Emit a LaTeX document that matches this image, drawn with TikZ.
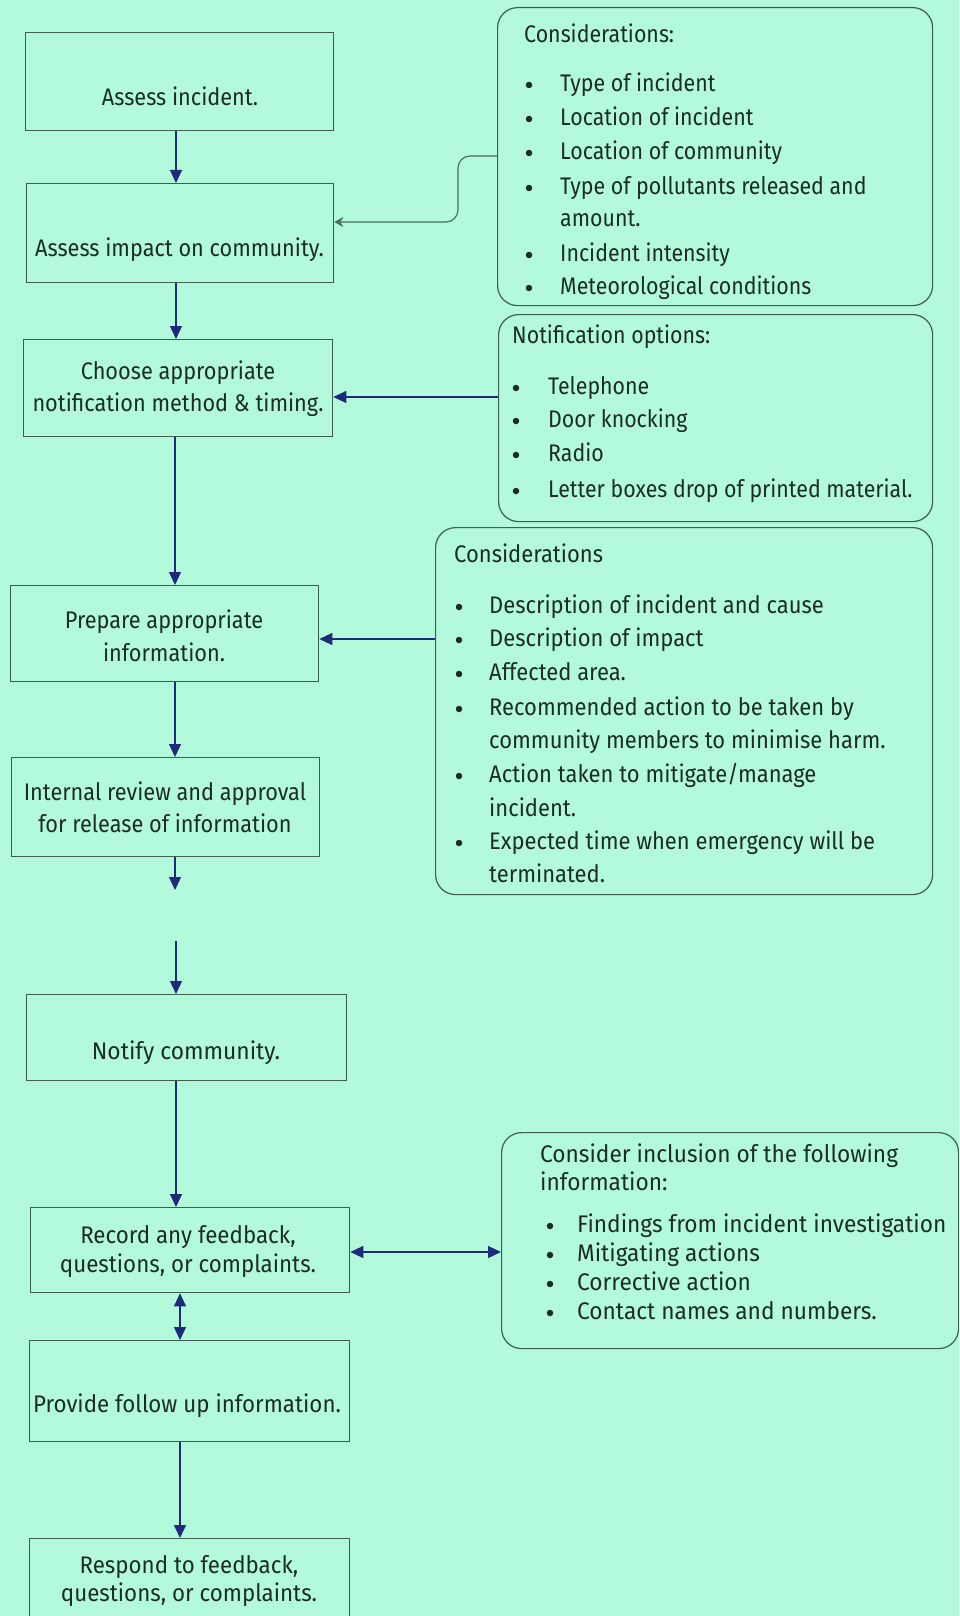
\documentclass[tikz,border=0pt]{standalone}
\usepackage{fontspec}
\setmainfont{Fira Sans}[FakeStretch=0.90]
\newfontfamily\fsA{Fira Sans}[FakeStretch=0.89]
\newfontfamily\fsB{Fira Sans}[FakeStretch=0.915]
\newfontfamily\fsC{Fira Sans}[FakeStretch=0.945]
\newfontfamily\fsD{Fira Sans}[FakeStretch=0.905]
\newfontfamily\fsE{Fira Sans}[FakeStretch=0.95]
\newfontfamily\fsF{Fira Sans}[FakeStretch=0.93]
\usetikzlibrary{arrows.meta}
\definecolor{bg}{HTML}{B3FADC}
\definecolor{edge}{HTML}{3E5E50}
\definecolor{navy}{HTML}{1F2B7A}
\definecolor{ink}{HTML}{1A2D25}
\definecolor{gline}{HTML}{4A6E60}
\begin{document}
\begin{tikzpicture}[x=1pt,y=-1pt,
  box/.style={draw=edge, line width=1.3pt, inner sep=0pt, anchor=north west},
  sbox/.style={draw=edge, line width=1.2pt, rounded corners=20pt, inner sep=0pt, anchor=north west},
  txt/.style={text=ink, font=\fsD\fontsize{24}{32}\selectfont, align=center, inner sep=0pt},
  txtl/.style={text=ink, font=\fsE\fontsize{24}{32}\selectfont, align=center, inner sep=0pt},
  txtm/.style={text=ink, font=\fsF\fontsize{24}{32}\selectfont, align=center, inner sep=0pt},
  item/.style={text=ink, font=\fsA\fontsize{24}{32}\selectfont, anchor=mid west, inner sep=0pt},
  itemb/.style={item, font=\fsB\fontsize{24}{32}\selectfont},
  itemc/.style={item, font=\fsC\fontsize{24}{32}\selectfont},
  dot/.style={circle, fill=ink, inner sep=0pt, minimum size=6.5pt},
  arr/.style={draw=navy, line width=1.3pt, -{Triangle[width=12pt,length=13pt]}},
  darr/.style={draw=navy, line width=1.3pt, {Triangle[width=12pt,length=13pt]}-{Triangle[width=12pt,length=13pt]}},
  garr/.style={draw=gline, line width=1.2pt, -{Stealth[width=10pt,length=9pt]}, rounded corners=12pt}
]
\useasboundingbox (0,0) rectangle (959,1616);
\fill[bg] (0,0) rectangle (959,1616);

% main boxes
\node[box, minimum width=308pt, minimum height=98pt] (b1) at (25,32) {};
\node[box, minimum width=307pt, minimum height=99pt] (b2) at (26,183) {};
\node[box, minimum width=309pt, minimum height=97pt] (b3) at (23,339) {};
\node[box, minimum width=308pt, minimum height=96pt] (b4) at (10,585) {};
\node[box, minimum width=308pt, minimum height=99pt] (b5) at (11,757) {};
\node[box, minimum width=320pt, minimum height=86pt] (b6) at (26,994) {};
\node[box, minimum width=319pt, minimum height=85pt] (b7) at (30,1207) {};
\node[box, minimum width=320pt, minimum height=101pt] (b8) at (29,1340) {};
\node[box, minimum width=320pt, minimum height=100pt] (b9) at (29,1538) {};

\node[txt, anchor=mid] (b1t) at (180,103) {Assess incident.};
\node[txt, anchor=mid] (b2t) at (179.5,254) {Assess impact on community.};
\node[txt, font=\fsD\fontsize{24}{32}\selectfont] (b3t) at (178,389) {Choose appropriate\\notification method \& timing.};
\node[txt, font=\fsD\fontsize{24}{33}\selectfont] (b4t) at (164,636) {Prepare appropriate\\information.};
\node[txt, font=\fsD\fontsize{24}{32}\selectfont] (b5t) at (165,807) {Internal review and approval\\for release of information};
\node[txtl, anchor=mid] (b6t) at (186,1057) {Notify community.};
\node[txtm, font=\fsF\fontsize{24}{29}\selectfont] (b7t) at (188,1252) {Record any feedback,\\questions, or complaints.};
\node[txtm, anchor=mid] (b8t) at (187,1410) {Provide follow up information.};
\node[txtm, font=\fsF\fontsize{24}{28}\selectfont] (b9t) at (189,1581) {Respond to feedback,\\questions, or complaints.};

% side boxes
\node[sbox, minimum width=435pt, minimum height=298pt] (sb1) at (497,7) {};
\node[sbox, minimum width=434pt, minimum height=207pt] (sb2) at (498,314) {};
\node[sbox, minimum width=497pt, minimum height=367pt] (sb3) at (435,527) {};
\node[sbox, minimum width=457pt, minimum height=216pt] (sb4) at (501,1132) {};

% side box 1 text
\node[item] (s1h) at (524,40) {Considerations:};
\foreach \y/\t [count=\i] in {89/{Type of incident},123/{Location of incident},157/{Location of community},192/{Type of pollutants released and},259/{Incident intensity},292/{Meteorological conditions}}{
  \node[dot] (s1d\i) at (529,\y-4) {};
  \node[item] (s1i\i) at (560,\y) {\t};
}
\node[item] (s1c) at (560,224) {amount.};

% side box 2 text
\node[item] (s2h) at (512,341) {Notification options:};
\foreach \y/\t [count=\i] in {392/{Telephone},425/{Door knocking},459/{Radio},495/{Letter boxes drop of printed material.}}{
  \node[dot] (s2d\i) at (516,\y-4) {};
  \node[item] (s2i\i) at (548,\y) {\t};
}

% side box 3 text
\node[itemb] (s3h) at (454,560) {Considerations};
\foreach \y/\t [count=\i] in {611/{Description of incident and cause},644/{Description of impact},678/{Affected area.},713/{Recommended action to be taken by},780/{Action taken to mitigate/manage},847/{Expected time when emergency will be}}{
  \node[dot] (s3d\i) at (459,\y-4) {};
  \node[itemb] (s3i\i) at (489,\y) {\t};
}
\node[itemb] (s3c1) at (489,746) {community members to minimise harm.};
\node[itemb] (s3c2) at (489,814) {incident.};
\node[itemb] (s3c3) at (489,880) {terminated.};

% side box 4 text
\node[itemc] (s4h1) at (540,1160) {Consider inclusion of the following};
\node[itemc] (s4h2) at (540,1188) {information:};
\foreach \y/\t [count=\i] in {1230/{Findings from incident investigation},1259/{Mitigating actions},1288/{Corrective action},1317/{Contact names and numbers.}}{
  \node[dot] (s4d\i) at (550,\y-4) {};
  \node[itemc] (s4i\i) at (577,\y) {\t};
}

% helper coordinates
\coordinate (xa) at (176,0);
\coordinate (xb) at (175,0);
\coordinate (xc) at (180,0);
\coordinate (e5) at (175,890);
\coordinate (s6) at (176,941);
\coordinate (h3) at (0,397);
\coordinate (h4) at (0,639);
\coordinate (h7) at (0,1252);
\coordinate (g1) at (458,156);
\coordinate (g2) at (458,222);

% connectors
\draw[arr] (b1.south -| xa) -- (b2.north -| xa);
\draw[arr] (b2.south -| xa) -- (b3.north -| xa);
\draw[arr] (b3.south -| xb) -- (b4.north -| xb);
\draw[arr] (b4.south -| xb) -- (b5.north -| xb);
\draw[arr] (b5.south -| xb) -- (e5);
\draw[arr] (s6) -- (b6.north -| xa);
\draw[arr] (b6.south -| xa) -- (b7.north -| xa);
\draw[darr] (b7.south -| xc) -- (b8.north -| xc);
\draw[arr] (b8.south -| xc) -- (b9.north -| xc);
\draw[arr] (sb2.west |- h3) -- (b3.east |- h3);
\draw[arr] (sb3.west |- h4) -- (b4.east |- h4);
\draw[darr] (b7.east |- h7) -- (sb4.west |- h7);
\draw[garr] (sb1.west |- g1) -- (g1) -- (g2) -- (b2.east |- g2);
\end{tikzpicture}
\end{document}
